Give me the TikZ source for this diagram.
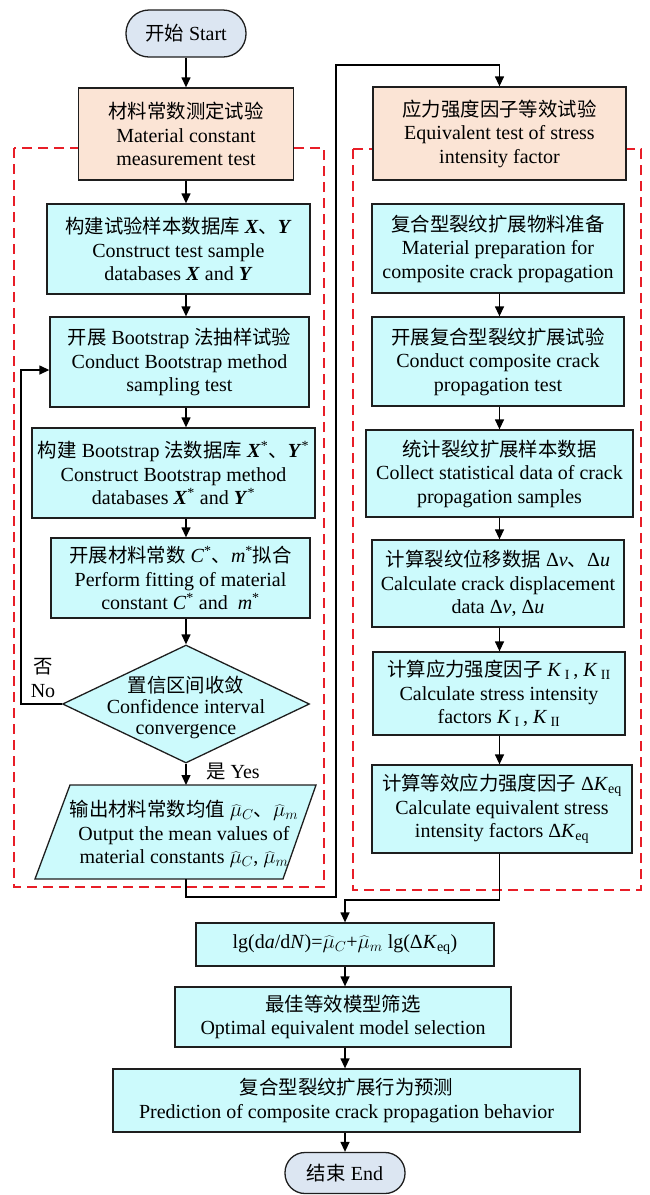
\documentclass[tikz,border=0pt]{standalone}
\usepackage{fontspec}
\setmainfont{Liberation Serif}
\newfontfamily\cjk{Noto Sans CJK SC}[Scale=0.97]
\usetikzlibrary{arrows.meta,shapes.geometric}
\newcommand{\zh}[1]{{\cjk #1}}
\newcommand{\bX}{\textbf{\textit{X}}}
\newcommand{\bY}{\textbf{\textit{Y}}}
\definecolor{cyanfill}{RGB}{204,250,252}
\definecolor{peach}{RGB}{251,228,213}
\definecolor{pill}{RGB}{220,230,242}
\definecolor{dred}{RGB}{232,30,40}
\definecolor{edge}{RGB}{30,30,30}
\begin{document}
\begin{tikzpicture}[x=1pt,y=-1pt,
  base/.style={draw=edge, line width=1.3pt, inner sep=0pt, align=center, font=\fontsize{20}{23.5}\selectfont},
  cbox/.style={base, fill=cyanfill, rectangle},
  pbox/.style={base, fill=peach, rectangle},
  term/.style={base, fill=pill},
  arr/.style={line width=1.3pt, draw=black, -{Triangle[length=10pt,width=9pt]}},
  frame/.style={draw=dred, line width=1.5pt, dash pattern=on 10pt off 6pt},
  lbl/.style={align=center, font=\fontsize{20}{23.5}\selectfont, inner sep=0pt}
]
\useasboundingbox (0,0) rectangle (649,1195);
% group frames
\draw[frame] (14,148) rectangle (324,887);
\draw[frame] (353,149) rectangle (641,890);

% left column
\node[term, minimum width=120pt, minimum height=47pt, rounded corners=23pt] (start) at (186,33.5) {\zh{开始} Start};
\node[pbox, minimum width=215pt, minimum height=92pt] (b1) at (186,134) {\zh{材料常数测定试验}\\Material constant\\measurement test};
\node[cbox, minimum width=263pt, minimum height=90pt] (b2) at (178.5,249) {\zh{构建试验样本数据库} \bX\zh{、}\bY\\Construct test sample\\databases \bX{} and \bY};
\node[cbox, minimum width=259pt, minimum height=90pt] (b3) at (179.5,362) {\zh{开展} Bootstrap \zh{法抽样试验}\\Conduct Bootstrap method\\sampling test};
\node[cbox, minimum width=283pt, minimum height=90pt] (b4) at (173.5,473) {\zh{构建} Bootstrap \zh{法数据库} \bX\textsuperscript{*}\zh{、}\bY\textsuperscript{*}\\Construct Bootstrap method\\databases \bX\textsuperscript{*} and \bY\textsuperscript{*}};
\node[cbox, minimum width=259pt, minimum height=80pt] (b5) at (180.5,578) {\zh{开展材料常数} \textit{C}\textsuperscript{*}\zh{、}\textit{m}\textsuperscript{*}\zh{拟合}\\Perform fitting of material\\constant \textit{C}\textsuperscript{*} and \ \textit{m}\textsuperscript{*}};
\node[diamond, draw=edge, line width=1.3pt, fill=cyanfill, minimum width=247pt, minimum height=118pt, inner sep=0pt] (dia) at (186,704) {};
\node[lbl, font=\fontsize{20}{21}\selectfont] (diat) at (186,707) {\zh{置信区间收敛}\\Confidence interval\\convergence};
\draw[draw=edge, line width=1.3pt, fill=cyanfill] (70,785) -- (316,785) -- (283,879) -- (35,879) -- cycle;
\coordinate (ptop) at (186,785);
\coordinate (pbot) at (186,879);
\node[lbl] (outp) at (184,834) {\zh{输出材料常数均值} $\widehat{\mu}_{C}$\zh{、}$\widehat{\mu}_{m}$\\Output the mean values of\\material constants $\widehat{\mu}_{C}$, $\widehat{\mu}_{m}$};
\node[lbl] (no) at (43,678) {\zh{否}\\No};
\node[lbl] (yes) at (233,772) {\zh{是} Yes};

% right column
\node[pbox, minimum width=253pt, minimum height=93pt] (rb1) at (499.5,133.5) {\zh{应力强度因子等效试验}\\Equivalent test of stress\\intensity factor};
\node[cbox, minimum width=252pt, minimum height=89pt] (r1) at (498,248.5) {\zh{复合型裂纹扩展物料准备}\\Material preparation for\\composite crack propagation};
\node[cbox, minimum width=252pt, minimum height=89pt] (r2) at (498,361.5) {\zh{开展复合型裂纹扩展试验}\\Conduct composite crack\\propagation test};
\node[cbox, minimum width=267pt, minimum height=87pt] (r3) at (499.5,473.5) {\zh{统计裂纹扩展样本数据}\\Collect statistical data of crack\\propagation samples};
\node[cbox, minimum width=252pt, minimum height=87pt] (r4) at (498,583.5) {\zh{计算裂纹位移数据} Δ\textit{v}\zh{、}Δ\textit{u}\\Calculate crack displacement\\data Δ\textit{v}, Δ\textit{u}};
\node[cbox, minimum width=252pt, minimum height=83pt] (r5) at (499,693.5) {\zh{计算应力强度因子} \textit{K}\,\textsubscript{I}\,, \textit{K}\,\textsubscript{II}\\Calculate stress intensity\\factors \textit{K}\,\textsubscript{I}\,, \textit{K}\,\textsubscript{II}};
\node[cbox, minimum width=260pt, minimum height=88pt] (r6) at (502,809) {\zh{计算等效应力强度因子} Δ\textit{K}\textsubscript{eq}\\Calculate equivalent stress\\intensity factors Δ\textit{K}\textsubscript{eq}};

% bottom
\node[cbox, minimum width=298pt, minimum height=43pt] (f1) at (345,944.5) {lg(d\textit{a}/d\textit{N})=$\widehat{\mu}_{C}$+$\widehat{\mu}_{m}$ lg(Δ\textit{K}\textsubscript{eq})};
\node[cbox, minimum width=336pt, minimum height=60pt] (f2) at (343,1017) {\zh{最佳等效模型筛选}\\Optimal equivalent model selection};
\node[cbox, minimum width=467pt, minimum height=63pt] (f3) at (346.5,1100.5) {\zh{复合型裂纹扩展行为预测}\\Prediction of composite crack propagation behavior};
\node[term, minimum width=120pt, minimum height=41pt, rounded corners=20pt] (end) at (345,1173) {\zh{结束} End};

% connectors left
\draw[arr] (start.south) -- (b1.north);
\draw[arr] (b1.south) -- (b1.south |- b2.north);
\draw[arr] (b2.south -| start) -- (b3.north -| start);
\draw[arr] (b3.south -| start) -- (b4.north -| start);
\draw[arr] (b4.south -| start) -- (b5.north -| start);
\draw[arr] (b5.south -| start) -- (dia.north);
\draw[arr] (dia.south) -- (ptop);
\draw[arr] (dia.west) -- ++(-41,0) |- ([yshift=-8pt]b3.west);
\coordinate (j1) at (336,897);
\coordinate (j2) at (336,65);
\draw[arr] (pbot) |- (j1) -- (j2) -| (rb1.north);

% connectors right
\draw[arr] (r1.south -| rb1) -- (r2.north -| rb1);
\draw[arr] (r2.south -| rb1) -- (r3.north -| rb1);
\draw[arr] (r3.south -| rb1) -- (r4.north -| rb1);
\draw[arr] (r4.south -| rb1) -- (r5.north -| rb1);
\draw[arr] (r5.south -| rb1) -- (r6.north -| rb1);
\coordinate (j3) at (345,900);
\draw[arr] (r6.south -| rb1) |- (j3) -- (f1.north);

% connectors bottom
\draw[arr] (f1.south) -- (f2.north -| f1);
\draw[arr] (f2.south -| f1) -- (f3.north -| f1);
\draw[arr] (f3.south -| f1) -- (end.north);
\end{tikzpicture}
\end{document}
